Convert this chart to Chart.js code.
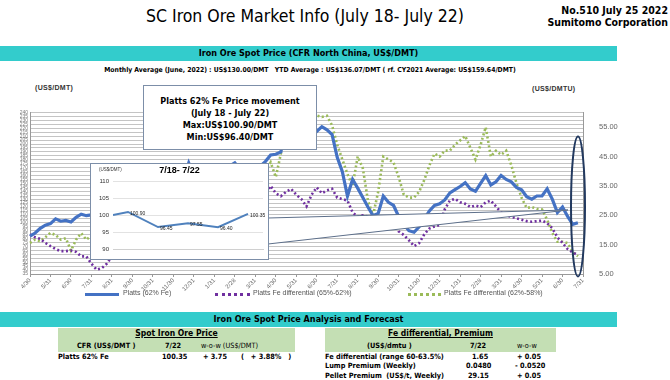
<!DOCTYPE html>
<html lang="en">
<head>
<meta charset="UTF-8">
<title>SC Iron Ore Market Info</title>
<script src="https://cdn.jsdelivr.net/npm/chart.js"></script>
<style>
  body { margin: 0; width: 670px; height: 380px; background: #fff; position: relative; overflow: hidden;
         font-family: "Liberation Sans Narrow", "DejaVu Sans Condensed", "Liberation Sans", Arial, sans-serif; color: #000; }
  .abs { position: absolute; white-space: nowrap; }
  .b { font-weight: bold; }
  #title { left: 105px; width: 400px; top: 6px; text-align: center; font-size: 17.5px; }
  #issue { right: 2px; top: 4px; text-align: right; font-size: 10.5px; font-weight: bold; line-height: 12px; }
  .bar { left: 0; width: 617px; height: 15px; background: #33cccc; text-align: center; font-size: 9px; font-weight: bold; line-height: 15px; }
  #monthly { left: 0; width: 620px; top: 66px; text-align: center; font-size: 6.8px; font-weight: bold; }
  .unit { font-family: "Liberation Sans", Arial, sans-serif; font-size: 7px; font-weight: bold; color: #333; letter-spacing: 0.3px; }
  #main { left: 0; top: 100px; }
  #infobox { left: 143px; top: 85px; width: 174px; height: 65px; box-sizing: border-box; border: 1px solid #7c8ea8; background: #fff;
             text-align: center; font-size: 9px; font-weight: bold; line-height: 12px; padding-top: 9px; z-index: 3; }
  #insetbox { left: 90px; top: 163px; width: 179px; height: 97px; box-sizing: border-box; border: 1px solid #7c8ea8; background: #fff; z-index: 3; }
  #insetbox canvas { position: absolute; left: 0; top: 0; }
  .legend { font-family: "Liberation Sans", Arial, sans-serif; font-size: 7px; color: #555; top: 289px; }
  .lg { position: absolute; top: 293px; height: 0; }
  .green { background: #c4dfb4; }
  .t { font-size: 7.3px; font-weight: bold; }
</style>
</head>
<body>
  <div id="title" class="abs">SC Iron Ore Market Info (July 18- July 22)</div>
  <div id="issue" class="abs">No.510 July 25 2022<br>Sumitomo Corporation</div>

  <div class="abs bar" style="top:46px;">Iron Ore Spot Price (CFR North China, US$/DMT)</div>
  <div id="monthly" class="abs">Monthly Average (June, 2022) : US$130.00/DMT&nbsp;&nbsp;&nbsp;YTD Average : US$136.07/DMT ( rf. CY2021 Average: US$159.64/DMT)</div>

  <div class="abs unit" style="left:35px; top:84px;">(US$/DMT)</div>
  <div class="abs unit" style="left:532px; top:85px;">(US$/DMTU)</div>

  <div id="main" class="abs"><canvas id="mainChart" width="620" height="192"></canvas></div>

  <div id="infobox" class="abs">Platts 62% Fe Price movement<br>(July 18 - July 22)<br>Max:US$100.90/DMT<br>Min:US$96.40/DMT</div>

  <div id="insetbox" class="abs">
    <canvas id="insetChart" width="177" height="95"></canvas>
    <div class="abs" style="left:8px; top:3px; font-family:'Liberation Sans',Arial,sans-serif; font-size:4.5px; color:#333;">(US$/DMT)</div>
    <div class="abs b" style="left:0; width:177px; top:1px; text-align:center; font-size:9px; font-family:'Liberation Sans',Arial,sans-serif;">7/18- 7/22</div>
  </div>

  <!-- legend -->
  <div class="lg" style="left:85px; width:34px; border-top:3px solid #4472c4;"></div>
  <div class="abs legend" style="left:123px;">Platts (62% Fe)</div>
  <div class="lg" style="left:215px; width:35px; border-top:3px dotted #7030a0;"></div>
  <div class="abs legend" style="left:253px;">Platts Fe differential (65%-62%)</div>
  <div class="lg" style="left:408px; width:33px; border-top:3px dotted #9bbb59;"></div>
  <div class="abs legend" style="left:444px;">Platts Fe differential (62%-58%)</div>

  <div class="abs bar" style="top:312px;">Iron Ore Spot Price Analysis and Forecast</div>

  <!-- spot price table -->
  <div class="abs green" style="left:58px; top:328px; width:237px; height:24px;"></div>
  <div class="abs t" style="left:58px; width:237px; top:328px; text-align:center; text-decoration:underline; font-size:8.5px;">Spot Iron Ore Price</div>
  <div class="abs t" style="left:77px; top:341px;">CFR (US$/DMT )</div>
  <div class="abs t" style="left:165px; top:341px;">7/22</div>
  <div class="abs t" style="left:201px; top:341px; font-weight:normal;">w-o-w (US$/DMT)</div>
  <div class="abs t" style="left:58px; top:352px;">Platts 62% Fe</div>
  <div class="abs t" style="left:162px; top:352px;">100.35</div>
  <div class="abs t" style="left:203px; top:352px;">+ 3.75</div>
  <div class="abs t" style="left:241px; top:352px;">(&nbsp;&nbsp;&nbsp;+ 3.88%&nbsp;&nbsp;&nbsp;)</div>

  <!-- differential table -->
  <div class="abs green" style="left:325px; top:328px; width:231px; height:24px;"></div>
  <div class="abs t" style="left:325px; width:231px; top:328px; text-align:center; text-decoration:underline; font-size:8.5px;">Fe differential, Premium</div>
  <div class="abs t" style="left:367px; top:341px;">(US$/dmtu )</div>
  <div class="abs t" style="left:470px; top:341px;">7/22</div>
  <div class="abs t" style="left:517px; top:341px; font-weight:normal;">w-o-w</div>
  <div class="abs t" style="left:325px; top:352px;">Fe differential (range 60-63.5%)</div>
  <div class="abs t" style="left:472px; top:352px;">1.65</div>
  <div class="abs t" style="left:517px; top:352px;">+ 0.05</div>
  <div class="abs t" style="left:325px; top:361px;">Lump Premium (Weekly)</div>
  <div class="abs t" style="left:466px; top:361px;">0.0480</div>
  <div class="abs t" style="left:515px; top:361px;">- 0.0520</div>
  <div class="abs t" style="left:325px; top:371px;">Pellet Premium&nbsp;&nbsp;(US$/t, Weekly)</div>
  <div class="abs t" style="left:468px; top:371px;">29.15</div>
  <div class="abs t" style="left:517px; top:371px;">+ 0.05</div>

<script>
// month-end tick labels, Apr 2020 .. Jul 2022
const monthLabels = ['4/30','5/31','6/30','7/31','8/31','9/30','10/31','11/30','12/31','1/31','2/28','3/31',
                     '4/30','5/31','6/30','7/31','8/31','9/30','10/31','11/30','12/31','1/31','2/28','3/31',
                     '4/30','5/31','6/30','7/31'];
const pointsPerMonth = 4; // roughly weekly readings

// Platts 62% Fe (US$/DMT, left axis)
const platts62 = [83, 87, 93, 97, 99, 105, 102, 103, 101, 107, 111, 109, 110,
  113, 120, 123, 124, 127, 121, 117, 118, 121, 118, 115, 118, 121, 125, 128, 129, 145, 155, 176,
  160, 170, 170, 163, 155, 160, 165, 172, 176, 168, 164, 160, 165, 172, 178, 186, 187, 190, 230,
  205, 200, 210, 215, 218, 216, 222, 218, 212, 183, 165, 134, 155, 144, 132, 120, 109, 112, 134,
  126, 122, 108, 98, 90, 88, 95, 105, 115, 122, 124, 129, 138, 142, 146, 151, 143, 140, 150, 160,
  148, 152, 160, 155, 152, 145, 142, 133, 130, 134, 134, 143, 130, 113, 120, 108, 98, 100];

// Platts Fe differential 65%-62% (US$/DMTU, right axis)
const diff6562 = [18.5, 17.5, 17, 15.6, 14.5, 13.5, 12.8, 12.8, 13, 12.5, 11, 11, 8.5,
  6.5, 7, 8.5, 11, 12, 13, 13, 14, 14, 13, 13, 14, 15, 16, 17, 17, 19, 20, 22,
  21, 22, 23, 23, 22, 24, 25, 26, 27, 26, 27, 28, 29, 30, 32, 35, 32.5, 31.5, 33,
  34, 32, 30.5, 28, 32, 34.5, 32.5, 33.5, 34, 31, 30.5, 30, 26, 24.5, 25, 24.5, 24.8, 24.5, 24.6,
  24.4, 23, 19.5, 18.3, 16.5, 14.5, 15.5, 18.5, 20.5, 21.2, 21.7, 27, 30, 30.6, 29.4, 28.9, 27.8, 28.3, 27.8, 29.4,
  30, 28, 26, 25, 24.5, 24, 23.5, 23, 22.8, 23, 23.2, 22.3, 20.6, 17.5, 15.6, 13.5, 12.3, 11.5];

// Platts Fe differential 62%-58% (US$/DMTU, right axis)
const diff6258 = [15.6, 16.7, 16.1, 17.5, 19, 18.3, 16.7, 17.2, 13, 16.7, 18.9, 16.7, 18,
  20, 21, 19, 22, 24, 21, 20, 22, 24, 23, 21, 22, 24, 26, 25, 27, 30, 33, 35,
  31, 33, 30, 28, 27, 30, 32, 34, 33, 31, 32, 35, 36, 38, 40, 43, 38, 46, 55,
  58, 57, 59, 57, 58, 59, 58.5, 58.9, 55.6, 49, 44, 39, 35, 45, 41, 30, 25, 33, 45,
  44, 43, 38, 32, 31, 31, 33, 37, 42, 46, 45, 47, 47, 49, 50.5, 52, 48, 44, 49, 55,
  45, 47, 45.6, 47, 42, 36, 31, 27.5, 27.8, 27.2, 27, 23.5, 19, 16, 16, 15.5, 12.5, 11];

const rightTicks = [5, 15, 25, 35, 45, 55];

// inset: week of July 18-22
const insetDates = ['7/18', '7/19', '7/20', '7/21', '7/22'];
const insetPrices = [100.90, 96.45, 97.55, 96.40, 100.35];
const insetStart = 100;   // value where the line leaves the left edge

// one category per reading, month-end label on every 4th
const categories = [];
monthLabels.forEach((m, k) => {
    categories.push(m);
    if (k < monthLabels.length - 1) {
        for (let j = 1; j < pointsPerMonth; j++) categories.push('');
    }
});

// white callout wedge and ellipse on top of the main chart
const calloutPlugin = {
    id: 'callout',
    afterDraw(chart) {
        const ctx = chart.ctx;
        ctx.save();
        ctx.beginPath();
        ctx.moveTo(268, 118);
        ctx.lineTo(568, 110);
        ctx.lineTo(268, 144);
        ctx.closePath();
        ctx.fillStyle = '#fff';
        ctx.fill();
        ctx.strokeStyle = '#5d6f8a';
        ctx.lineWidth = 1;
        ctx.beginPath();
        ctx.moveTo(268, 118); ctx.lineTo(568, 110); ctx.lineTo(268, 144);
        ctx.stroke();

        ctx.beginPath();
        ctx.ellipse(578, 106.5, 7, 70, 0, 0, Math.PI * 2);
        ctx.strokeStyle = '#22395f';
        ctx.lineWidth = 2;
        ctx.stroke();
        ctx.restore();
    }
};

new Chart(document.getElementById('mainChart'), {
    type: 'line',
    data: {
        labels: categories,
        datasets: [
            { label: 'Platts (62% Fe)', data: platts62, yAxisID: 'y',
              borderColor: '#4472c4', borderWidth: 3.2, pointRadius: 0, tension: 0 },
            { label: 'Platts Fe differential (65%-62%)', data: diff6562, yAxisID: 'y1',
              borderColor: '#7030a0', borderWidth: 2.6, borderDash: [2, 2.5], pointRadius: 0, tension: 0 },
            { label: 'Platts Fe differential (62%-58%)', data: diff6258, yAxisID: 'y1',
              borderColor: '#9bbb59', borderWidth: 2.6, borderDash: [2, 2.5], pointRadius: 0, tension: 0 }
        ]
    },
    options: {
        responsive: false,
        animation: false,
        layout: { padding: { top: 10, left: 0, right: 0, bottom: 0 } },
        plugins: { legend: { display: false }, tooltip: { enabled: false } },
        scales: {
            x: {
                ticks: { autoSkip: false, minRotation: 45, maxRotation: 45, padding: 0,
                         font: { size: 6, family: 'Liberation Sans' }, color: '#666' },
                grid: { drawOnChartArea: false, tickLength: 3,
                        color: c => (c.index % pointsPerMonth === 0 ? '#999' : 'rgba(0,0,0,0)') },
                border: { color: '#999' },
                afterFit: s => { s.height = 18; }
            },
            y: {
                position: 'left', min: 35, max: 240,
                ticks: { stepSize: 5, autoSkip: false, padding: 2,
                         font: { size: 5, family: 'Liberation Sans' }, color: '#777' },
                grid: { color: '#c4c4c4', tickLength: 0 },
                border: { color: '#999' },
                afterFit: s => { s.width = 30; }
            },
            y1: {
                position: 'right', min: 5, max: 60,
                afterBuildTicks: s => { s.ticks = rightTicks.map(v => ({ value: v })); },
                ticks: { callback: v => Number(v).toFixed(2), padding: 8,
                         font: { size: 7.5, family: 'Liberation Sans' }, color: '#666' },
                grid: { display: false },
                border: { color: '#999' },
                afterFit: s => { s.width = 37; }
            }
        }
    },
    plugins: [calloutPlugin]
});

// value labels beside each inset point
const insetLabels = {
    id: 'insetLabels',
    afterDatasetsDraw(chart) {
        const ctx = chart.ctx;
        const pts = chart.getDatasetMeta(0).data;
        ctx.save();
        ctx.font = '5px "Liberation Sans", Arial, sans-serif';
        ctx.fillStyle = '#222';
        ctx.textBaseline = 'middle';
        insetPrices.forEach((v, i) => {
            const p = pts[i + 1];
            ctx.fillText(v.toFixed(2), p.x + 2, p.y + 1.5);
        });
        ctx.restore();
    }
};

new Chart(document.getElementById('insetChart'), {
    type: 'line',
    data: {
        datasets: [{
            data: [{ x: 0, y: insetStart }].concat(insetPrices.map((v, i) => ({ x: i + 0.5, y: v }))),
            borderColor: '#4f81bd', borderWidth: 2, pointRadius: 0, tension: 0
        }]
    },
    options: {
        responsive: false,
        animation: false,
        layout: { padding: { top: 17, right: 5 } },
        plugins: { legend: { display: false }, tooltip: { enabled: false } },
        scales: {
            x: {
                type: 'linear', min: 0, max: insetDates.length,
                afterBuildTicks: s => { s.ticks = insetDates.map((d, i) => ({ value: i + 0.5 })); },
                ticks: { callback: (v, i) => insetDates[i], padding: 1,
                         font: { size: 6, weight: 'bold', family: 'Liberation Sans' }, color: '#333' },
                grid: { display: false },
                border: { color: '#d0d0d0' },
                afterFit: s => { s.height = 10; }
            },
            y: {
                min: 90, max: 110,
                ticks: { stepSize: 5, padding: 4, font: { size: 6, family: 'Liberation Sans' }, color: '#333' },
                grid: { color: '#e2e2e2', tickLength: 0 },
                border: { display: false },
                afterFit: s => { s.width = 22; }
            }
        }
    },
    plugins: [insetLabels]
});
</script>
</body>
</html>
